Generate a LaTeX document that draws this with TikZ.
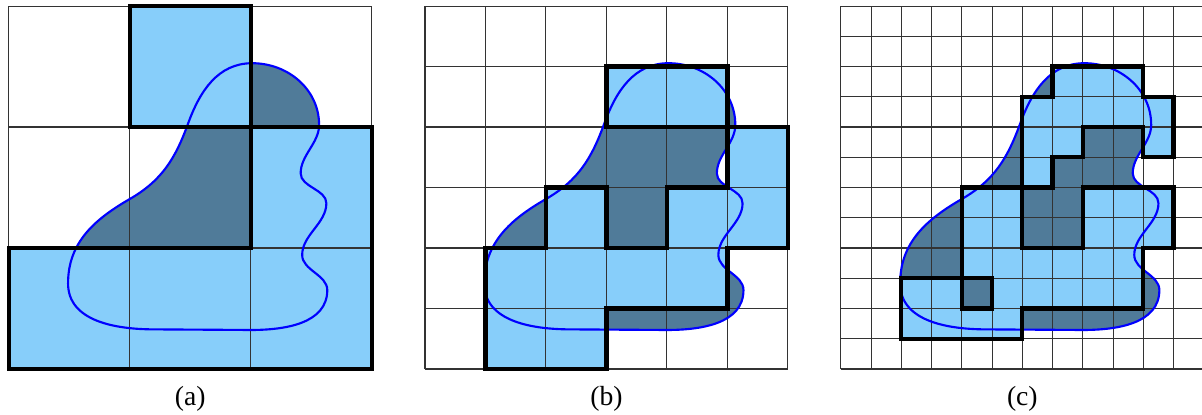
\documentclass[tikz,border=0pt]{standalone}
\usepackage{fontspec}
\setmainfont{Liberation Serif}
\usepackage{xcolor}
\definecolor{cellblue}{RGB}{135,206,250}
\definecolor{blobdark}{RGB}{80,123,153}
\newcommand{\blobshape}{(8.05,10.11) to[out=0,in=90] (10.26,8.07)
  to[out=-90,in=90,looseness=0.9] (9.65,6.47) to[out=-90,in=90,looseness=0.9] (10.50,5.48)
  to[out=-90,in=90,looseness=0.9] (9.70,3.77) to[out=-90,in=90,looseness=0.9] (10.53,2.61)
  to[out=-90,in=0] (8.0,1.29) -- (4.83,1.31) to[out=180,in=-90] (1.96,2.83)
  to[out=90,in=210] (4.0,5.62) to[out=30,in=250] (5.93,8.12) to[out=70,in=180] cycle}
\newcommand{\regiona}{(4,8) rectangle (8,12) (0,0) -- (12,0) -- (12,8) -- (8,8) -- (8,4) -- (0,4) -- cycle}
\newcommand{\regionb}{(6,8) rectangle (10,10) (2,0) -- (6,0) -- (6,2) -- (10,2) -- (10,4) -- (12,4) -- (12,8) -- (10,8) -- (10,6) -- (8,6) -- (8,4) -- (6,4) -- (6,6) -- (4,6) -- (4,4) -- (2,4) -- cycle}
\newcommand{\regionc}{(7,10) -- (10,10) -- (10,9) -- (11,9) -- (11,7) -- (10,7) -- (10,8) -- (8,8) -- (8,7) -- (7,7) -- (7,6) -- (6,6) -- (6,9) -- (7,9) -- cycle
  (2,1) -- (6,1) -- (6,2) -- (10,2) -- (10,4) -- (11,4) -- (11,6) -- (8,6) -- (8,4) -- (6,4) -- (6,6) -- (4,6) -- (4,3) -- (2,3) -- cycle
  (4,2) rectangle (5,3)}

\begin{document}
\begin{tikzpicture}[x=0.5cm,y=0.5cm,font=\fontsize{13}{15}\selectfont,
  gridline/.style={black!80,line width=0.5pt},
  blobline/.style={blue,line width=1pt},
  region/.style={line width=2pt}]
\useasboundingbox (0,0) rectangle (39.74,13.69);
\clip (0,0) rectangle (39.74,13.69);
\begin{scope}[shift={(0.29,1.49)}]
\fill[blobdark] \blobshape;
\fill[cellblue,even odd rule] \regiona;
\draw[gridline] (0,0) grid[step=4] (12,12);
\draw[blobline] \blobshape;
\draw[region] \regiona;
\node (capa) at (6,-0.99) {(a)};
\end{scope}
\begin{scope}[shift={(14.05,1.49)}]
\fill[blobdark] \blobshape;
\fill[cellblue,even odd rule] \regionb;
\draw[gridline] (0,0) grid[step=2] (12,12);
\draw[blobline] \blobshape;
\draw[region] \regionb;
\node (capb) at (6,-0.99) {(b)};
\end{scope}
\begin{scope}[shift={(27.80,1.49)}]
\fill[blobdark] \blobshape;
\fill[cellblue,even odd rule] \regionc;
\draw[gridline] (0,0) grid[step=1] (12,12);
\draw[blobline] \blobshape;
\draw[region] \regionc;
\node (capc) at (6,-0.99) {(c)};
\end{scope}
\end{tikzpicture}
\end{document}
